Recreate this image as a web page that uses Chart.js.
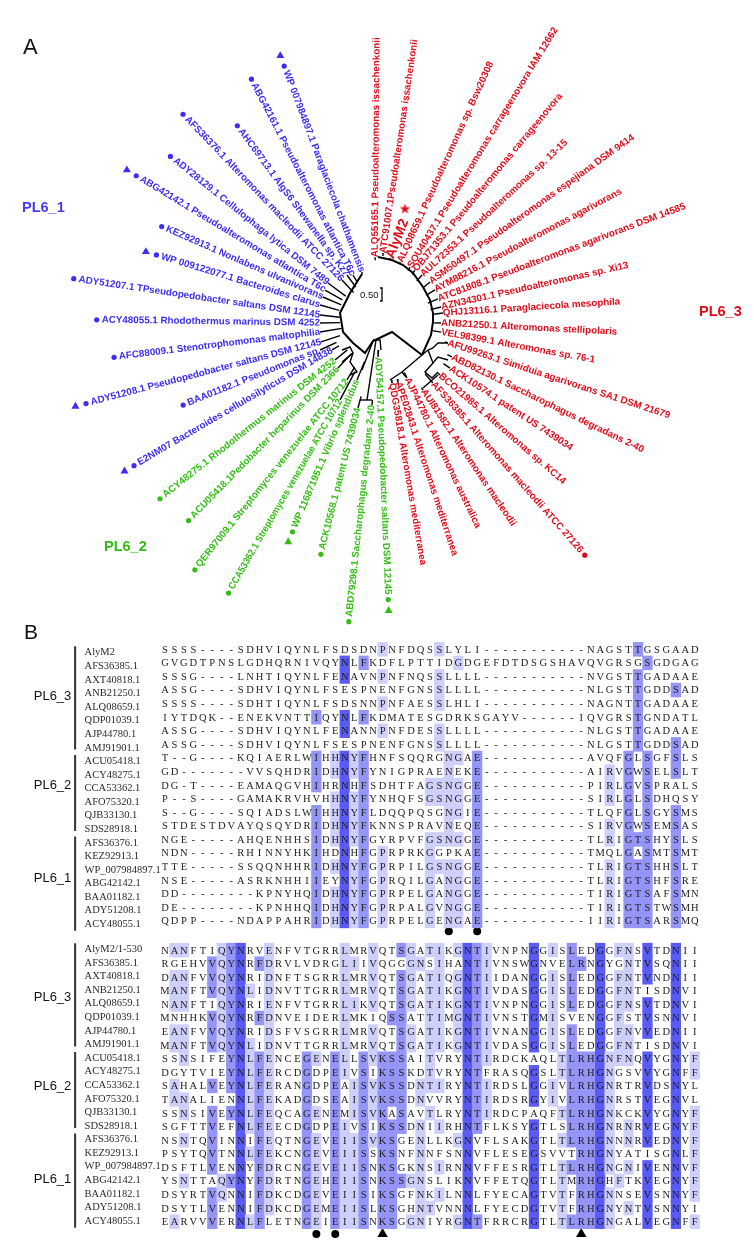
<!DOCTYPE html>
<html>
<head>
<meta charset="utf-8">
<title>PL6 tree and alignment</title>
<script src="https://cdn.jsdelivr.net/npm/chart.js@4"></script>
<style>
  html, body { margin: 0; padding: 0; background: #fff; }
  #treeBox { position: absolute; left: 0; top: 0; width: 754px; height: 640px; }
  #alnBox { position: absolute; left: 0; top: 620px; width: 754px; height: 629px; }
</style>
</head>
<body>
<div id="treeBox"><canvas id="treeChart" width="754" height="640"></canvas></div>
<div id="alnBox"><canvas id="alnChart" width="754" height="629"></canvas></div>
<script>
// === Tree leaves
const blueNames = ["WP 007984897.1 Paraglaciecola chathamensis", "ABG42161.1 Pseudoalteromonas atlantica T6c", "AHC69713.1 AlgS6 Shewanella sp. Kz7", "AFS36376.1 Alteromonas macleodii ATCC 27126", "ADY28129.1 Cellulophaga lytica DSM 7489", "ABG42142.1 Pseudoalteromonas atlantica T6c", "KEZ92913.1 Nonlabens ulvanivorans", "WP 009122077.1 Bacteroides clarus", "ADY51207.1 TPseudopedobacter saltans DSM 12145", "ACY48055.1 Rhodothermus marinus DSM 4252", "AFC88009.1 Stenotrophomonas maltophilia", "ADY51208.1 Pseudopedobacter saltans DSM 12145", "BAA01182.1 Pseudomonas sp.", "E2NM07 Bacteroides cellulosilyticus DSM 14838"];
const blueAngle = [249.2, 239.2, 234.1, 227.1, 216.3, 209.7, 203.3, 195.6, 186.5, 179.1, 170.7, 161.6, 155.3, 150.3];
const blueLength = [53.5, 54.7, 58, 57.3, 65.8, 64.5, 63.2, 63.3, 61.4, 61, 61.8, 63.2, 67, 56.4];
const blueStem = [2, 8, 15, 17, 22, 20, 20, 20, 20, 20, 22, 20, 18, 8];
const blueTilt = [69.3, 62.6, 53.7, 46.2, 38.8, 31.2, 23.6, 17, 8.4, 0.8, -7, -14.7, -21.9, -30.3];

const greenNames = ["ACY48275.1 Rhodothermus marinus DSM 4252", "ACU05418.1Pedobacter heparinus DSM 2366", "QER97009.1 Streptomyces venezuelae ATCC 10712", "CCA53362.1 Streptomyces venezuelae ATCC 10712", "WP 116871951.1 Vibrio splendidus", "ACK10568.1 patent US 7439034", "ABD79298.1 Saccharophagus degradans 2-40", "ADY54157.1 Pseudopedobacter saltans DSM 12145"];
const greenAngle = [140.4, 133.1, 120.4, 117.7, 112.5, 105, 96.2, 94.9];
const greenLength = [59.7, 63, 67.2, 88, 62.8, 89, 83.5, 35];
const greenStem = [16, 20, 15, 32, 20, 12, 5, 7];
const greenTilt = [-38.4, -45.6, -51.3, -60, -67, -75.8, -83.9, 87.6];

const redNames = ["QDG35818.1 Alteromonas mediterranea", "APE02843.1 Alteromonas mediterranea", "AJP44780.1 Alteromonas australica", "AUI81582.1 Alteromonas macleodii", "AFS36385.1 Alteromonas macleodii ATCC 27126", "BCO21985.1 Alteromonas sp. KC14", "ACK10574.1 patent US 7439034", "ABD82130.1 Saccharophagus degradans 2-40", "AFU99263.1 Simiduia agarivorans SA1 DSM 21679", "VEL98399.1 Alteromonas sp. 76-1", "ANB21250.1 Alteromonas stellipolaris", "QHJ13116.1 Paraglaciecola mesophila", "AZN34301.1 Pseudoalteromonas sp. Xi13", "ATC81808.1 Pseudoalteromonas agarivorans DSM 14585", "AYM88216.1 Pseudoalteromonas agarivorans", "ASM50497.1 Pseudoalteromonas espejiana DSM 9414", "AUL72353.1 Pseudoalteromonas sp. 13-15", "OBJ71353.1 Pseudoalteromonas carrageenovora", "SOU40437.1 Pseudoalteromonas carrageenovora IAM 12662", "ALQ08659.1 Pseudoalteromonas sp. Bsw20308", "AlyM2", "ATC91007.1Pseudoalteromonas issachenkonii", "ALQ55165.1 Pseudoalteromonas issachenkonii"];
const redAngle = [79.8, 74.2, 65.1, 58.3, 49.6, 41.9, 33.7, 26.2, 17.4, 9.5, 1, -8.3, -14, -22, -30.7, -39.2, -48.9, -56.8, -62.2, -72.4, -82, -88.3, -95.3];
const redLength = [62, 62.4, 61.7, 80, 80, 79.3, 83, 79, 70, 61, 60, 62.6, 62, 61.5, 62.8, 63.3, 62.4, 62, 62, 63, 64.6, 69, 65];
const redStem = [3, 3, 6, 3, 12, 3, 8, 5, 3, 9, 7, 9, 11, 11, 10, 9, 8, 5, 4, 2, 2, 3, 3];
const redTilt = [80.3, 71.8, 64.5, 56.1, 48.6, 40.8, 33.4, 26, 18.2, 10.3, 2.9, -3.6, -12.6, -20.6, -28, -35.6, -42.8, -50.3, -58.6, -65.5, -68.6, -81.5, -89.5];

// leaves that also carry a triangle or a dot beyond the label
const triangleLeaves = ["WP 007984897.1 Paraglaciecola chathamensis", "ABG42142.1 Pseudoalteromonas atlantica T6c", "WP 009122077.1 Bacteroides clarus", "ADY51208.1 Pseudopedobacter saltans DSM 12145", "E2NM07 Bacteroides cellulosilyticus DSM 14838", "WP 116871951.1 Vibrio splendidus", "ADY54157.1 Pseudopedobacter saltans DSM 12145"];
const redDotLeaves = ["AFS36385.1 Alteromonas macleodii ATCC 27126"];
// this one is set tighter than the others in the figure
const squeezedLeaves = { "CCA53362.1 Streptomyces venezuelae ATCC 10712": 218 };

// inner branches of the tree, on the page axes of the top chart
const thickBranches = [
  [[378, 257], [392, 260], [403, 265], [413, 273], [423, 287], [430, 300], [433, 313], [433, 322], [431, 335], [422, 355]],
  [[422, 355], [392, 332], [373, 341], [365, 353], [353, 343], [343, 332], [340, 313], [350, 293], [362, 274]]
];
const thinBranches = [
  [[373, 341], [362, 370]],
  [[376, 340], [367, 400]],
  [[360, 400], [372, 400]],
  [[373, 340], [380, 340], [381, 350]],
  [[342, 350], [350, 347], [353, 353], [342, 362]],
  [[353, 353], [350, 362], [357, 372], [350, 375]],
  [[422, 355], [402, 372], [390, 380]],
  [[402, 372], [406, 377]],
  [[422, 355], [428, 350], [433, 348], [438, 343], [448, 343]],
  [[428, 350], [433, 363], [438, 357], [448, 360]],
  [[433, 363], [425, 372], [432, 378], [438, 372]],
  [[438, 375], [423, 388]]
];

// === Alignment, first block
const rowNamesTop = ["AlyM2", "AFS36385.1", "AXT40818.1", "ANB21250.1", "ALQ08659.1", "QDP01039.1", "AJP44780.1", "AMJ91901.1", "ACU05418.1", "ACY48275.1", "CCA53362.1", "AFO75320.1", "QJB33130.1", "SDS28918.1", "AFS36376.1", "KEZ92913.1", "WP_007984897.1", "ABG42142.1", "BAA01182.1", "ADY51208.1", "ACY48055.1"];
const seqTop = [
  "SSSS----SDHVIQYNLFSDSDNPNFDQSSLYLI-----------NAGSTTGSGAAD",
  "GVGDTPNSLGDHQRNIVQYNLFKDFLPTTIDGDGEFDTDSGSHAVQVGRSGSGDGAG",
  "SSSG----LNHTIQYNLFENAVNPNFNQSSLLLL-----------NVGSTTGADAAE",
  "ASSG----SDHVIQYNLFSESPNENFGNSSLLLL-----------NLGSTTGDDSAD",
  "SSSS----SDHTIQYNLFSDSNNPNFAESSLHLI-----------NAGNTTGADAAE",
  "IYTDQK--ENEKVNTTIQYNLFKDMATESGDRKSGAYV------IQVGRSTGNDATL",
  "ASSG----SDHVIQYNLFENANNPNFDESSLLLL-----------NLGSTTGADAAE",
  "ASSG----SDHVIQYNLFSESPNENFGNSSLLLL-----------NLGSTTGDDSAD",
  "T--G----KQIAERLWIHHNYFHNFSQQRGNGAE-----------AVQFGLSGFSLS",
  "GD-------VVSQHDRIDHNYFYNIGPRAENEKE-----------AIRVGWSELSLT",
  "DG-T----EAMAQGVHIHRNHFSDHTFAGSNGGE-----------PIRLGVSPRALS",
  "P--S----GAMAKRVHVHHNYFYNHQFSGSNGGE-----------SIRLGLSDHQSY",
  "S--G----SQIADSLWIHHNYFLDQQPQSGNGIE-----------TLQFGLSGYSMS",
  "STDESTDVAYQSQYDRIDHNYFKNNSPRAVNEQE-----------SIRVGWSEMSAS",
  "NGE-----AHQENHHSIDHNYFGYRPVFGSNGGE-----------TLRIGTSHYSLS",
  "NDN-----RHINNYHKIHDNHFGPRPRKGGPKAE-----------TMQLGASMTSMT",
  "TTE-----SSQQNHHRIDHNYFGPRPILGSNGGE-----------TLRIGTSHHSLT",
  "NSE-----ASRKNHHIIEYNYFGPRQILGANGGE-----------TLRIGTSHFSRE",
  "DD--------KPNYHQIDHNYFGPRPELGANGGE-----------TIRIGTSAFSMN",
  "DE--------KPNHHQIDHNYFGPRPALGVNGGE-----------TIRIGTSTWSMH",
  "QDPP----NDAPPAHRIDHNYFGPRPELGENGAE-----------IIRIGTSARSMQ"
];

// === Alignment, second block
const rowNamesBottom = ["AlyM2/1-530", "AFS36385.1", "AXT40818.1", "ANB21250.1", "ALQ08659.1", "QDP01039.1", "AJP44780.1", "AMJ91901.1", "ACU05418.1", "ACY48275.1", "CCA53362.1", "AFO75320.1", "QJB33130.1", "SDS28918.1", "AFS36376.1", "KEZ92913.1", "WP_007984897.1", "ABG42142.1", "BAA01182.1", "ADY51208.1", "ACY48055.1"];
const seqBottom = [
  "NANFTIQYNRVENFVTGRRLMRVQTSGATIKGNTIVNPNGGISLEDGGFNSVTDNII",
  "RGEHVVQYNRFDRVLVDRGLIIVQGGGNSIHANTIVNSWGNVELRNGYGNTVSQNII",
  "DANFVVQYNRIDNFTSGRRLMRVQTSGATIQGNTIIDANGGISLEDGGFNTVNDNII",
  "MANFTVQYNLIDNVTTGRRLMRVQTSGATIKGNTIVDASGGISLEDGGFNTISDNVI",
  "NANFTIQYNRIENFVTGRRLIKVQTSGATIKGNTIVNPNGGISLEDGGFNSVTDNVI",
  "MNHHKVQYNRFDNVEIDERLMKIQSSATTIMGNTIVNSTGMISVENGGFSTVSNNVI",
  "EANFVVQYNRIDSFVSGRRLMRVQTSGATIKGNTIVNANGGISLEDGGFNVVEDNII",
  "MANFTVQYNLIDNVTTGRRLMRVQTSGATIKGNTIVDASGGISLEDGGFNTISDNVI",
  "SSNSIFEYNLFENCEGENELLSVKSSAITVRYNTIRDCKAQLTLRHGNFNQVYGNYF",
  "DGYTVIEYNLFERCDGDPEIVSIKSSKDTVRYNTFRASQGSLTLRHGNGSVVYGNFF",
  "SAHALVEYNLFERANGDPEAISVKSSDNTIRYNTIRDSLGGIVLRHGNRTRVDSNYL",
  "TANALIENNLFEKADGDSEAISVKSSDNVVRYNTIRDSRGYIVLRHGNRSTVEGNVL",
  "SSNSIVEYNLFEQCAGENEMISVKASAVTLRYNTIRDCPAQFTLRHGNKCKVYGNYF",
  "SGFTTVEFNLFEECDGDPEIVSIKSSDNIIRHNTFLKSYGTLSLRHGNRNRVEGNYF",
  "NSNTQVINNIFEQTNGEVEIISVKSGENLLKGNVFLSAKGTLTLRHGNNNRVEDNVF",
  "PSYTQVTNNLFEKCNGEVEIISSKSNFNNFSNNVFLESEGSVVTRHGNYATISGNLF",
  "DSFTLVENNYFDRCNGEVEIISNKSGKNSIRNNVFFESRGTLTLRHGNGNIVENNVF",
  "YSNTTAQYNYFDRTNGEHEIISNKSSGNSLIKNVFFETQGTLTMRHGHFTKVEGNYF",
  "DSYRTVQNNIFDKCDGEVEIISIKSGFNKILNNLFYECAGTVTFRHGNNSEVSNNYF",
  "DSYTLVENNIFDKCDGEMEIISLKSGHNTVNNNLFYECDGTVTFRHGNYNTVSNNYI",
  "EARVVVERNLFLETNGEIEIISNKSGGNIYRGNTFRRCRGTLTLRHGNGALVEGNFF"
];

// group label, first row, last row (same in both blocks)
const groupNames = ["PL6_3", "PL6_2", "PL6_1"];
const groupFirstRow = [0, 8, 14];
const groupLastRow = [7, 13, 20];
const groupLabelRow = [3.5, 10.03, 16.85];

// columns marked under each block
const circleColsTop = [30, 33];
const circleColsBottom = [16, 18];
const triangleColsBottom = [23, 44];

// === 1. Tree chart
const BLUE = "#3d2df0", GREEN = "#34bd16", RED = "#df0d1c";
const rootX = 381, rootY = 322;
const LEAF_FONT = "bold 9.8px 'Liberation Sans'";
const HERO_FONT = "bold 14px 'Liberation Sans'";

const measure = document.createElement("canvas").getContext("2d");
const rad = d => d * Math.PI / 180;

function buildLeaves(names, angles, lengths, stems, tilts, color, withDot) {
  return names.map((name, i) => {
    const x = rootX + lengths[i] * Math.cos(rad(angles[i]));
    const y = rootY + lengths[i] * Math.sin(rad(angles[i]));
    const tip = lengths[i] - stems[i];
    // reads away from the root or towards it
    let dirX = Math.cos(rad(tilts[i])), dirY = Math.sin(rad(tilts[i]));
    const outward = dirX * Math.cos(rad(angles[i])) + dirY * Math.sin(rad(angles[i])) > 0;
    const font = name === "AlyM2" ? HERO_FONT : LEAF_FONT;
    measure.font = font;
    const squeeze = squeezedLeaves[name];
    const w = squeeze || measure.measureText(name).width;
    if (!outward) { dirX = -dirX; dirY = -dirY; }
    return {
      name, x, y, color, font, tilt: tilts[i], outward, dirX, dirY, width: w, squeeze,
      stem: [{ x: rootX + tip * Math.cos(rad(angles[i])), y: rootY + tip * Math.sin(rad(angles[i])) }, { x, y }],
      dot: withDot || redDotLeaves.includes(name) ? { x: x + dirX * (w + 5), y: y + dirY * (w + 5) } : null,
      tri: triangleLeaves.includes(name) ? { x: x + dirX * (w + 16), y: y + dirY * (w + 16) } : null
    };
  });
}

const leaves = [
  ...buildLeaves(blueNames, blueAngle, blueLength, blueStem, blueTilt, BLUE, true),
  ...buildLeaves(greenNames, greenAngle, greenLength, greenStem, greenTilt, GREEN, true),
  ...buildLeaves(redNames, redAngle, redLength, redStem, redTilt, RED, false)
];

function branchDataset(path, width) {
  return {
    type: "scatter", showLine: true, borderColor: "#000", borderWidth: width, pointRadius: 0,
    tension: 0, data: path.map(p => Array.isArray(p) ? { x: p[0], y: p[1] } : p)
  };
}

function markerDataset(points, style, radius, color) {
  return { type: "scatter", data: points, pointStyle: style, pointRadius: radius, backgroundColor: color, borderColor: color, borderWidth: 0 };
}

// 5 point star, the library only has a line one
function starImage(size, color) {
  const c = document.createElement("canvas");
  c.width = c.height = size;
  const g = c.getContext("2d");
  g.fillStyle = color;
  g.beginPath();
  for (let i = 0; i < 10; i++) {
    const r = i % 2 ? size * 0.2 : size * 0.5;
    const a = rad(-90 + i * 36);
    g.lineTo(size / 2 + r * Math.cos(a), size / 2 + r * Math.sin(a));
  }
  g.closePath();
  g.fill();
  return c;
}

const treeDatasets = [
  ...thickBranches.map(p => branchDataset(p, 2)),
  ...thinBranches.map(p => branchDataset(p, 1.4)),
  ...leaves.map(l => branchDataset(l.stem, 1.4)),
  ...[BLUE, GREEN, RED].map(c => markerDataset(leaves.filter(l => l.color === c && l.dot).map(l => l.dot), "circle", 2.6, c)),
  ...[BLUE, GREEN].map(c => markerDataset(leaves.filter(l => l.color === c && l.tri).map(l => l.tri), "triangle", 4.6, c)),
  markerDataset([{ x: 405, y: 209 }], starImage(11, RED), 5.5, RED),
  branchDataset([[380, 288], [382, 288], [382, 301], [380, 301]], 1.3)
];

const treeText = {
  id: "treeText",
  afterDatasetsDraw(chart) {
    const { ctx, scales: { x, y } } = chart;
    ctx.save();
    ctx.textBaseline = "middle";
    leaves.forEach(l => {
      ctx.save();
      ctx.translate(x.getPixelForValue(l.x), y.getPixelForValue(l.y));
      ctx.rotate(rad(l.tilt));
      ctx.font = l.font;
      ctx.fillStyle = l.color;
      ctx.textAlign = l.outward ? "left" : "right";
      if (l.squeeze) ctx.fillText(l.name, 0, 0, l.squeeze);
      else ctx.fillText(l.name, 0, 0);
      ctx.restore();
    });
    ctx.textAlign = "left";
    ctx.font = "bold 14.5px 'Liberation Sans'";
    ctx.fillStyle = "#4a3cf0";
    ctx.fillText("PL6_1", x.getPixelForValue(22), y.getPixelForValue(208));
    ctx.fillStyle = GREEN;
    ctx.fillText("PL6_2", x.getPixelForValue(104), y.getPixelForValue(547));
    ctx.fillStyle = RED;
    ctx.fillText("PL6_3", x.getPixelForValue(699), y.getPixelForValue(312));
    ctx.fillStyle = "#111";
    ctx.font = "22px 'Liberation Sans'";
    ctx.fillText("A", x.getPixelForValue(23), y.getPixelForValue(48));
    ctx.font = "9.5px 'Liberation Sans'";
    ctx.fillText("0.50", x.getPixelForValue(360), y.getPixelForValue(295));
    ctx.restore();
  }
};

new Chart(document.getElementById("treeChart"), {
  type: "scatter",
  data: { datasets: treeDatasets },
  options: {
    responsive: false,
    animation: false,
    layout: { padding: 0, autoPadding: false },
    plugins: { legend: { display: false }, tooltip: { enabled: false } },
    scales: {
      x: { type: "linear", min: 0, max: 754, display: false },
      y: { type: "linear", min: 0, max: 640, reverse: true, display: false }
    }
  },
  plugins: [treeText]
});

// === 2. Alignment chart
const BLOCK_GAP = 22.15; // rows between first row of each block
const blocks = [
  { names: rowNamesTop, seqs: seqTop, start: 0, labelShift: 0.25, bracketShift: 0.28 },
  { names: rowNamesBottom, seqs: seqBottom, start: BLOCK_GAP, labelShift: -0.05, bracketShift: 0 }
];

// percentage identity colouring: the modal residue of each column
function shadeCells(seqs, start) {
  const cells = [];
  for (let col = 0; col < seqs[0].length; col++) {
    const counts = {};
    seqs.forEach(s => { if (s[col] !== "-") counts[s[col]] = (counts[s[col]] || 0) + 1; });
    const best = Math.max(0, ...Object.values(counts));
    const pct = best / seqs.length;
    const color = pct > 0.8 ? "#5a5af5" : pct > 0.6 ? "#9595f8" : pct > 0.4 ? "#cfcffc" : null;
    if (!color) continue;
    seqs.forEach((s, row) => {
      if (s[col] !== "-" && counts[s[col]] === best) {
        cells.push({ x: col, y: [start + row - 0.51, start + row + 0.51], color });
      }
    });
  }
  return cells;
}

const cells = blocks.flatMap(b => shadeCells(b.seqs, b.start));
const BRACKET_COL = -9.5;

const bracketSets = blocks.flatMap(b => groupNames.map((g, i) => branchDataset([
  { x: BRACKET_COL, y: b.start + groupFirstRow[i] - 0.5 + b.bracketShift },
  { x: BRACKET_COL, y: b.start + groupLastRow[i] + 0.1 + b.bracketShift + (i === 2 ? 0.35 : 0) }
], 2)));
bracketSets.forEach(d => { d.borderColor = "#333"; });

const LAST_ROW = seqTop.length - 1;
const circlePoints = [
  ...circleColsTop.map(c => ({ x: c, y: LAST_ROW + 0.76 })),
  ...circleColsBottom.map(c => ({ x: c, y: BLOCK_GAP + LAST_ROW + 0.9 }))
];
const trianglePoints = triangleColsBottom.map(c => ({ x: c, y: BLOCK_GAP + LAST_ROW + 0.9 }));

const alnText = {
  id: "alnText",
  afterDatasetsDraw(chart) {
    const { ctx, scales: { x, y } } = chart;
    ctx.save();
    ctx.textBaseline = "middle";
    blocks.forEach(b => {
      ctx.fillStyle = "#1c1c1c";
      ctx.textAlign = "center";
      ctx.font = "10.5px 'Liberation Serif'";
      b.seqs.forEach((s, row) => {
        const py = y.getPixelForValue(b.start + row) + 0.7;
        [...s].forEach((ch, col) => ctx.fillText(ch, x.getPixelForValue(col), py));
      });
      ctx.textAlign = "left";
      ctx.font = "10.5px 'Liberation Serif'";
      ctx.fillStyle = "#2a2a2a";
      b.names.forEach((n, row) => {
        ctx.fillText(n, x.getPixelForValue(-8.5), y.getPixelForValue(b.start + row + b.labelShift));
      });
      ctx.textAlign = "right";
      ctx.font = "13px 'Liberation Sans'";
      ctx.fillStyle = "#111";
      groupNames.forEach((g, i) => {
        ctx.fillText(g, x.getPixelForValue(-9.9), y.getPixelForValue(b.start + groupLabelRow[i]));
      });
    });
    ctx.textAlign = "left";
    ctx.font = "21px 'Liberation Sans'";
    ctx.fillStyle = "#111";
    ctx.fillText("B", x.getPixelForValue(-14.9), y.getPixelForValue(-1.16));
    ctx.restore();
  }
};

new Chart(document.getElementById("alnChart"), {
  type: "bar",
  data: {
    datasets: [
      {
        type: "bar", data: cells, barThickness: 9.6, grouped: false, borderWidth: 0, borderSkipped: false,
        backgroundColor: cells.map(c => c.color)
      },
      ...bracketSets,
      markerDataset(circlePoints, "circle", 4, "#000"),
      markerDataset(trianglePoints, "triangle", 6, "#000")
    ]
  },
  options: {
    responsive: false,
    animation: false,
    layout: { padding: 0, autoPadding: false },
    plugins: { legend: { display: false }, tooltip: { enabled: false } },
    scales: {
      x: { type: "linear", min: -17.44, max: 62.26, offset: false, display: false },
      y: { type: "linear", min: -2.158, max: 44.16, reverse: true, display: false }
    }
  },
  plugins: [alnText]
});
</script>
</body>
</html>
